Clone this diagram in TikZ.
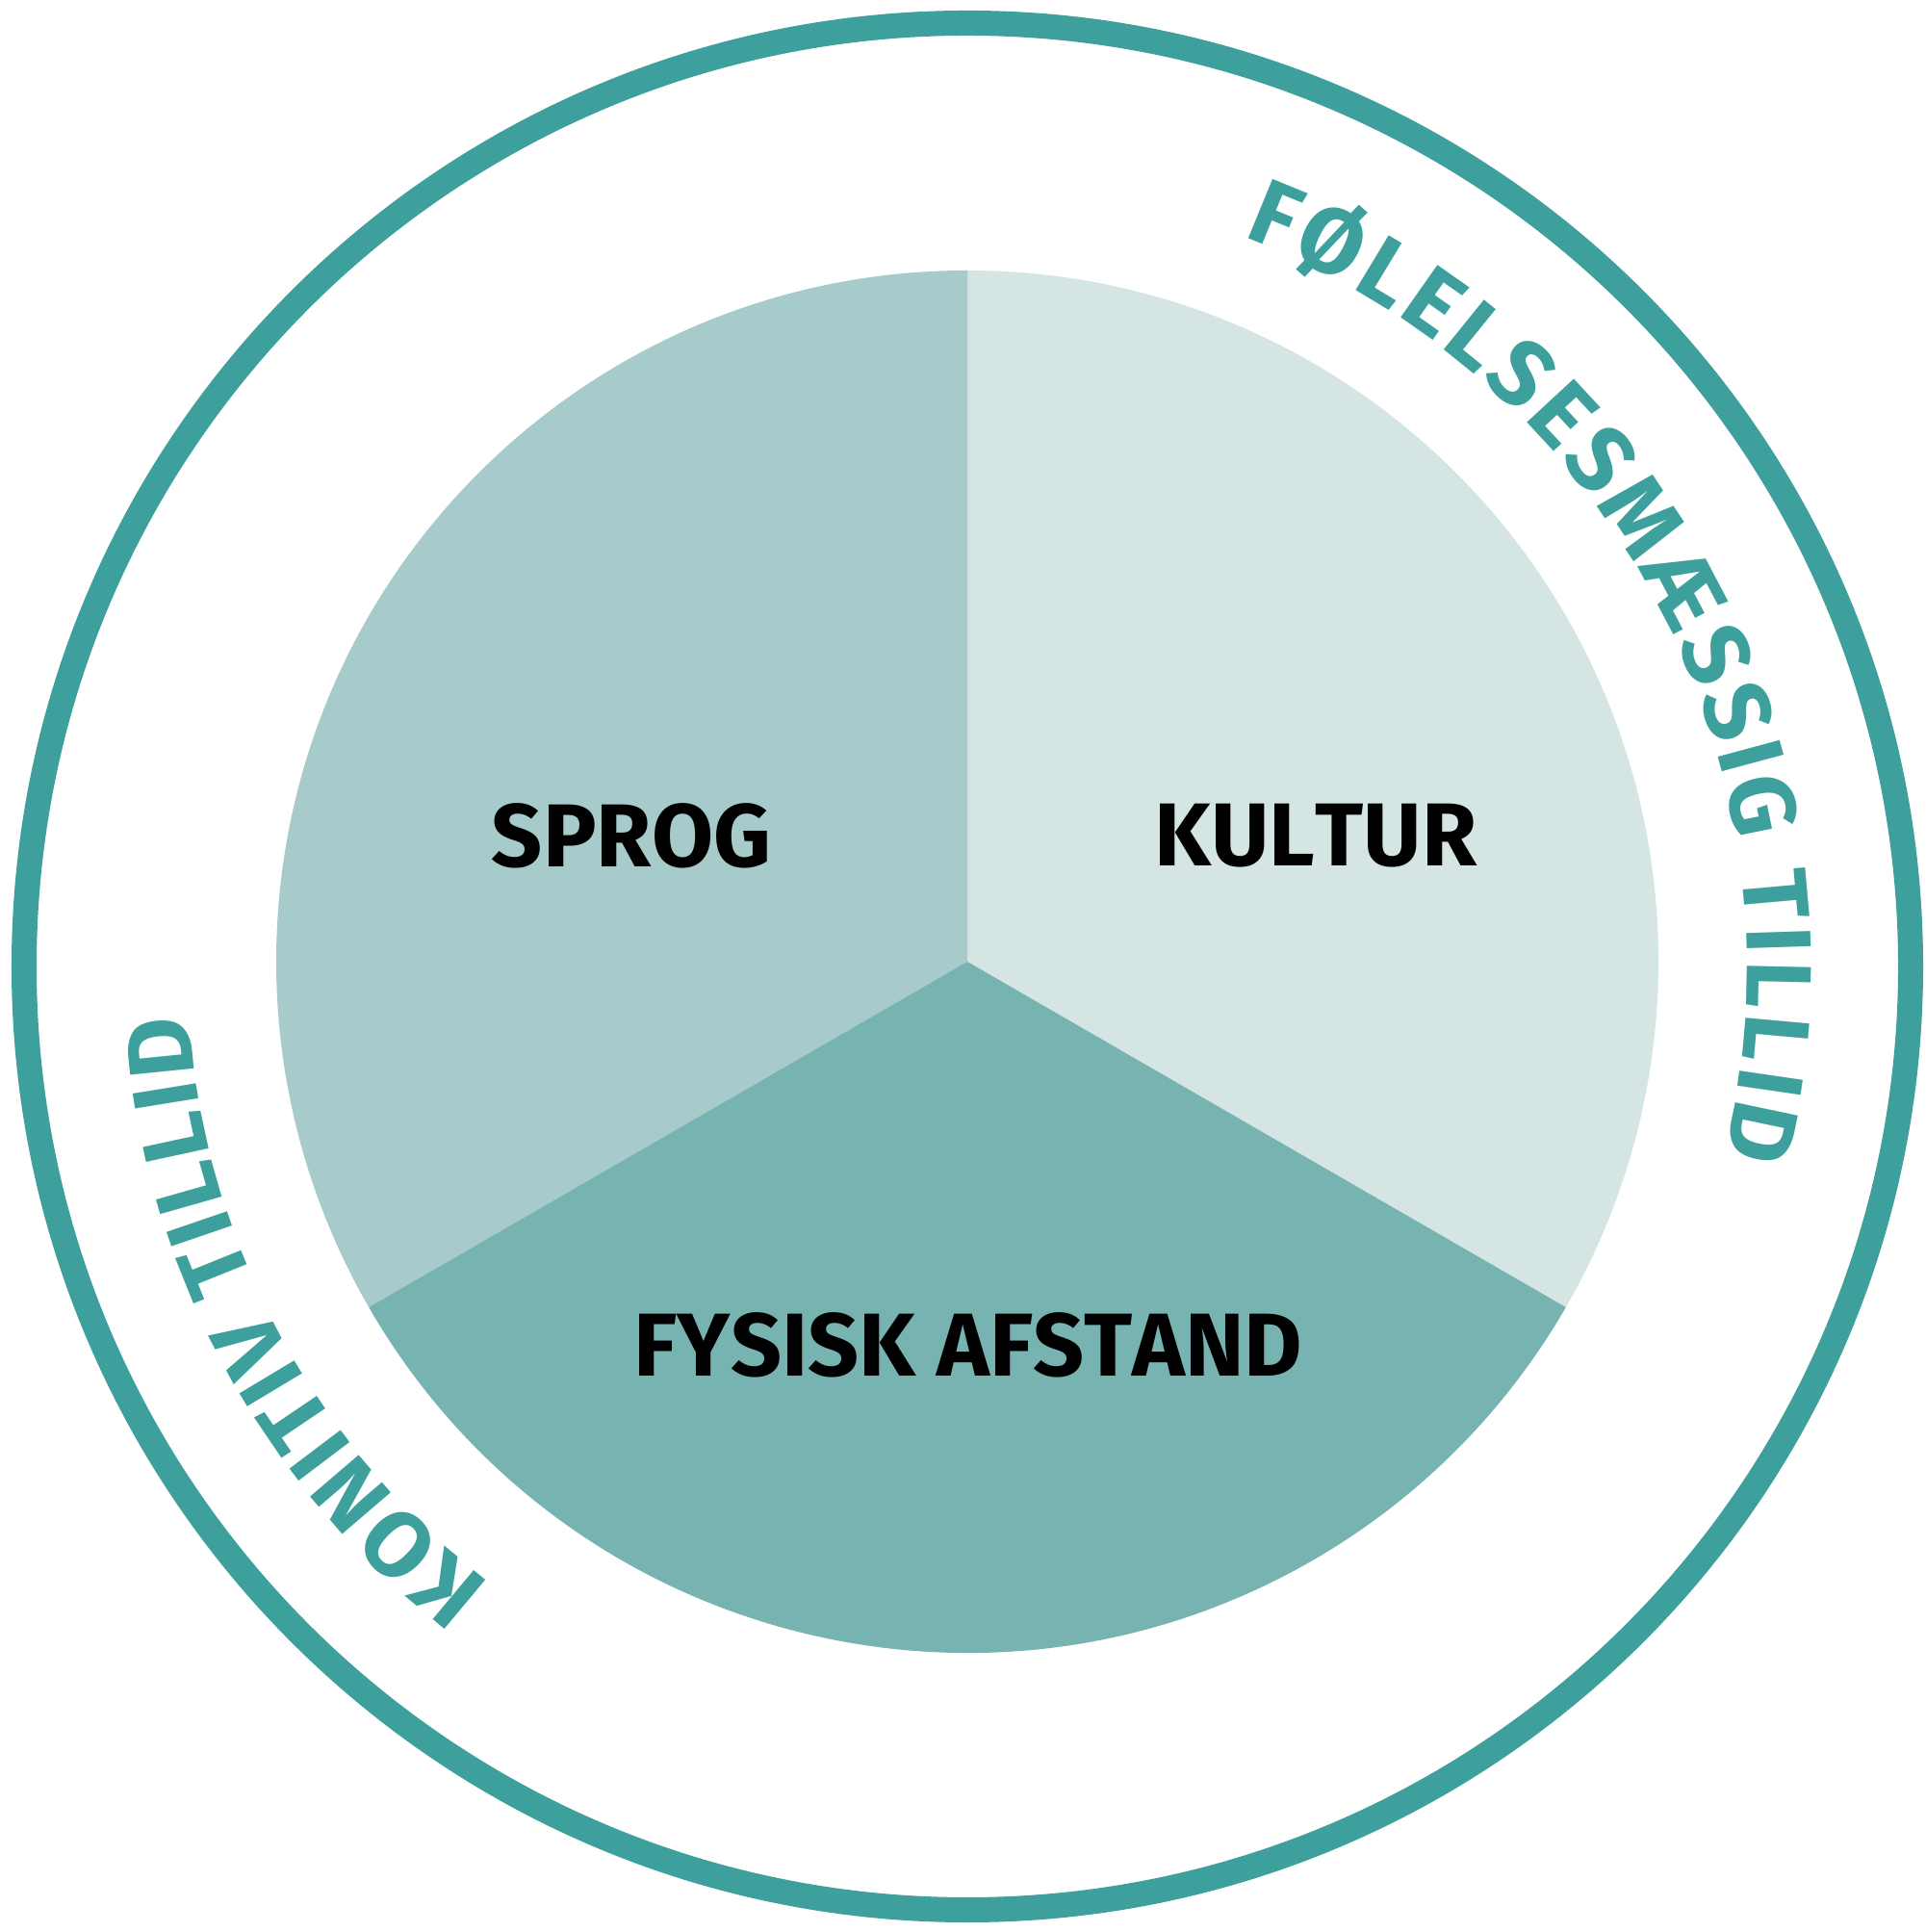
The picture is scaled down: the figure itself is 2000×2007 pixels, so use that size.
\documentclass[tikz,border=0pt]{standalone}
\usepackage{fontspec}
\setmainfont{Fira Sans}
\newfontfamily\lblfont{Fira Sans}[Kerning=Off]
\usetikzlibrary{decorations.text,calc}
\definecolor{ringteal}{HTML}{3DA09D}
\definecolor{sectA}{HTML}{A6CBCA}
\definecolor{sectB}{HTML}{D4E5E4}
\definecolor{sectC}{HTML}{76B3B1}
\begin{document}
\begin{tikzpicture}[x=0.01cm,y=0.01cm,
  lbl/.style={inner sep=0pt, font=\lblfont\fontsize{26.4}{28}\selectfont\bfseries, text=black},
  ringtext/.style={decorate, decoration={text along path, text color=ringteal,
     text align={fit to path},
     text={|\fontsize{27.3}{30}\selectfont\bfseries|#1}}}
]
\useasboundingbox (0,0) rectangle (2000,2007);
\coordinate (pc) at (1005,1008);
\coordinate (rc) at (1005,1003);
% pie sectors
\fill[sectB] (pc) -- ($(pc)+(90:718)$) arc[start angle=90,end angle=-30,radius=718] -- cycle;
\fill[sectA] (pc) -- ($(pc)+(90:718)$) arc[start angle=90,end angle=210,radius=718] -- cycle;
\fill[sectC] (pc) -- ($(pc)+(210:718)$) arc[start angle=210,end angle=330,radius=718] -- cycle;
% outer ring
\draw[ringteal, line width=0.26cm] (rc) circle[radius=980];
% labels
\node[lbl] (sprog) at (656,1139) {SPROG};
\node[lbl] (kultur) at (1367,1139) {KULTUR};
\node[lbl] (fysisk) at (1006,610) {FYSISK AFSTAND};
% curved texts
\coordinate (rtA) at ($(rc)+(69.3:810)$);
\coordinate (ltA) at ($(rc)+(232.3:810)$);
\path[ringtext={FØLELSESMÆSSIG TILLID}] (rtA) arc[start angle=69.3,end angle=-14,radius=810];
\path[ringtext={KONITIV TILLID}] (ltA) arc[start angle=232.3,end angle=183.6,radius=810];
\end{tikzpicture}
\end{document}
